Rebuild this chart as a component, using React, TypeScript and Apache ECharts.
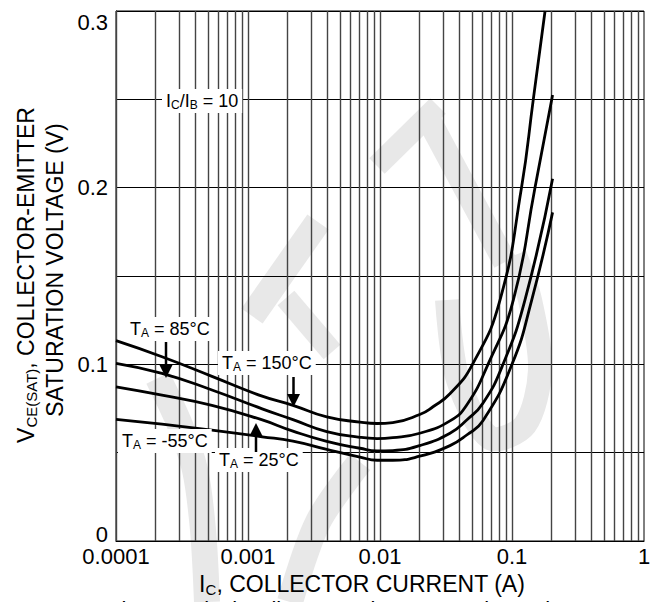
import React, { useEffect, useRef } from "react";
import * as echarts from "echarts";

const FONT = "'Liberation Sans', Arial, Helvetica, sans-serif";

// tick labels
const xTickLabels = ["0.0001", "0.001", "0.01", "0.1", "1"];
const yTickLabels = ["0", "0.1", "0.2", "0.3"];

// log grid
const gridDecades = [0.0001, 0.001, 0.01, 0.1];
const gridMultipliers = [1, 2, 3, 4, 5, 6, 7, 8, 9];

// curves (IC in A, VCE(sat) in V)
const ic150 = [0.0001, 0.000223, 0.000533, 0.00128, 0.00219, 0.00395, 0.00705, 0.0095, 0.0125, 0.02, 0.0252, 0.034, 0.0502, 0.0811, 0.118, 0.145, 0.178];
const vce150 = [0.1134, 0.1043, 0.0932, 0.082, 0.0768, 0.0702, 0.0673, 0.0665, 0.067, 0.0716, 0.076, 0.0835, 0.1, 0.1364, 0.2, 0.25, 0.3];

const ic85 = [0.0001, 0.000223, 0.000533, 0.00128, 0.00219, 0.00395, 0.00705, 0.0095, 0.0125, 0.02, 0.0339, 0.0454, 0.0658, 0.1023, 0.1493, 0.203];
const vce85 = [0.1006, 0.0949, 0.0855, 0.0748, 0.0687, 0.0619, 0.0587, 0.058, 0.0585, 0.061, 0.068, 0.077, 0.1, 0.1364, 0.2, 0.2525];

const ic25 = [0.0001, 0.000223, 0.000533, 0.00125, 0.00219, 0.00395, 0.00705, 0.0095, 0.0125, 0.02, 0.0339, 0.0454, 0.0602, 0.0855, 0.1253, 0.203];
const vce25 = [0.0873, 0.0826, 0.0768, 0.0688, 0.0622, 0.0564, 0.0525, 0.051, 0.0512, 0.054, 0.061, 0.0685, 0.078, 0.1, 0.1364, 0.205];

const icM55 = [0.0001, 0.000223, 0.000533, 0.00128, 0.00219, 0.00395, 0.00705, 0.0095, 0.0125, 0.02, 0.0339, 0.0454, 0.0602, 0.1, 0.141, 0.203];
const vceM55 = [0.0689, 0.0661, 0.0627, 0.059, 0.0565, 0.0518, 0.0475, 0.0457, 0.0457, 0.048, 0.054, 0.06, 0.068, 0.1, 0.1364, 0.186];

const curves = [
  { name: "TA = 150°C", x: ic150, y: vce150 },
  { name: "TA = 85°C", x: ic85, y: vce85 },
  { name: "TA = 25°C", x: ic25, y: vce25 },
  { name: "TA = -55°C", x: icM55, y: vceM55 },
];

const subRich = (size: number, sub: number, lh: number) => ({
  n: { fontSize: size, fontFamily: FONT, fill: "#000", color: "#000", lineHeight: lh },
  s: { fontSize: sub, fontFamily: FONT, fill: "#000", color: "#000", lineHeight: 8, verticalAlign: "bottom" },
});

function boxLabel(x: number, y: number, text: string) {
  return {
    type: "text",
    x,
    y,
    z: 50,
    style: {
      text,
      align: "left",
      verticalAlign: "middle",
      backgroundColor: "#fff",
      padding: [2, 4, 2, 4],
      rich: subRich(18, 12, 20),
    },
  };
}

function arrow(x: number, yFrom: number, yTip: number, yBase: number) {
  return [
    {
      type: "polyline",
      z: 60,
      shape: { points: [[x, yFrom], [x, yBase]] },
      style: { stroke: "#000", lineWidth: 2.5, fill: null },
    },
    {
      type: "polygon",
      z: 60,
      shape: { points: [[x - 6.5, yBase], [x + 6.5, yBase], [x, yTip]] },
      style: { fill: "#000" },
    },
  ];
}

const WM = "#e8e8e8";
function band(points: number[][], w: number) {
  return {
    type: "polyline",
    z: -10,
    shape: { points, smooth: 0.3 },
    style: { stroke: WM, lineWidth: w, fill: null, lineCap: "butt", lineJoin: "round" },
  };
}

export default function App() {
  const ref = useRef<HTMLDivElement>(null);
  useEffect(() => {
    const chart = echarts.init(ref.current!, null, { renderer: "svg" });
    const verticalGrid: number[] = [];
    gridDecades.forEach((d) => gridMultipliers.forEach((m) => verticalGrid.push(d * m)));

    const option: any = {
      animation: false,
      backgroundColor: "#fff",
      textStyle: { fontFamily: FONT },
      grid: {
        left: 116,
        right: 16,
        top: 11,
        bottom: 61,
        show: true,
        borderColor: "#000",
        borderWidth: 1,
        backgroundColor: "transparent",
        containLabel: false,
        outerBoundsMode: "none",
      },
      xAxis: {
        type: "log",
        logBase: 10,
        min: 0.0001,
        max: 1,
        axisLine: { show: true, onZero: false, lineStyle: { color: "#000", width: 1 } },
        axisTick: { show: false },
        splitLine: { show: false },
        minorTick: { show: false },
        axisLabel: {
          color: "#000",
          fontSize: 22,
          fontFamily: FONT,
          margin: 4,
          formatter: (v: number) => xTickLabels[Math.round(Math.log10(v)) + 4] ?? "",
        },
      },
      yAxis: {
        type: "value",
        min: 0,
        max: 0.3,
        interval: 0.05,
        axisLine: { show: true, lineStyle: { color: "#000", width: 1 } },
        axisTick: { show: false },
        splitLine: { show: true, lineStyle: { color: "#000", width: 1 } },
        axisLabel: {
          color: "#000",
          fontSize: 22,
          fontFamily: FONT,
          margin: 8,
          formatter: (v: number) => {
            const k = Math.round(v * 20);
            if (k % 2 !== 0) return "";
            const lab = yTickLabels[k / 2];
            if (k === 6) return `{top|${lab}}`;
            if (k === 0) return `{bot|${lab}}`;
            return lab;
          },
          rich: {
            top: { fontSize: 22, fontFamily: FONT, color: "#000", padding: [22, 0, 0, 0] },
            bot: { fontSize: 22, fontFamily: FONT, color: "#000", padding: [0, 0, 14, 0] },
          },
        },
      },
      series: [
        {
          type: "lines",
          coordinateSystem: "cartesian2d",
          silent: true,
          z: 1,
          lineStyle: { color: "#444", width: 1.4, opacity: 1, curveness: 0 },
          data: verticalGrid.map((v) => ({ coords: [[v, 0], [v, 0.3]] })),
        },
        ...curves.map((c) => ({
          type: "line",
          name: c.name,
          z: 3,
          smooth: 0.5,
          showSymbol: false,
          symbol: "none",
          clip: true,
          lineStyle: { color: "#000", width: 2.8 },
          data: c.x.map((x, i) => [x, c.y[i]]),
        })),
      ],
      graphic: [
        // watermark (light gray)
        band([[158, 378], [180, 425], [195, 470], [203, 530], [207, 602]], 26),
        band([[252, 316], [318, 222]], 26),
        band([[286, 298], [332, 352]], 22),
        band([[290, 602], [318, 522], [360, 462]], 26),
        band([[377, 166], [438, 106]], 22),
        band([[430, 122], [505, 262]], 24),
        band([[447, 300], [458, 380], [490, 438], [525, 425], [540, 370], [530, 300], [515, 255]], 24),
        // labels
        boxLabel(162, 101, "{n|I}{s|C}{n|/I}{s|B}{n| = 10}"),
        boxLabel(126, 329, "{n|T}{s|A}{n| = 85°C}"),
        boxLabel(218, 363, "{n|T}{s|A}{n| = 150°C}"),
        boxLabel(118, 441, "{n|T}{s|A}{n| = -55°C}"),
        boxLabel(215, 460, "{n|T}{s|A}{n| = 25°C}"),
        ...arrow(166, 342, 378, 365),
        ...arrow(293.5, 377, 407, 394),
        ...arrow(256, 452, 423, 436),
        // axis titles
        {
          type: "text",
          x: 362,
          y: 584,
          z: 50,
          style: {
            text: "{n|I}{s|C}{n|, COLLECTOR CURRENT (A)}",
            align: "center",
            verticalAlign: "middle",
            rich: subRich(23, 15, 26),
          },
        },
        {
          type: "text",
          x: 26,
          y: 275,
          rotation: Math.PI / 2,
          z: 50,
          style: {
            text: "{n|V}{s|CE(SAT)}{n|, COLLECTOR-EMITTER}",
            align: "center",
            verticalAlign: "middle",
            rich: subRich(23, 15, 26),
          },
        },
        {
          type: "text",
          x: 55,
          y: 270,
          rotation: Math.PI / 2,
          z: 50,
          style: {
            text: "SATURATION VOLTAGE (V)",
            align: "center",
            verticalAlign: "middle",
            fontSize: 23,
            fontFamily: FONT,
            fill: "#000",
          },
        },
        {
          type: "text",
          x: 108,
          y: 598,
          z: 40,
          style: {
            text: "Fig. 1 Typical Collector-Emitter Saturation Voltage",
            align: "left",
            verticalAlign: "top",
            fontSize: 22,
            fontFamily: FONT,
            fill: "#000",
          },
        },
      ],
    };
    chart.setOption(option);
    return () => chart.dispose();
  }, []);
  return (
    <div
      ref={ref}
      style={{ position: "absolute", left: 0, top: 0, width: 660, height: 602, background: "#fff" }}
    />
  );
}
